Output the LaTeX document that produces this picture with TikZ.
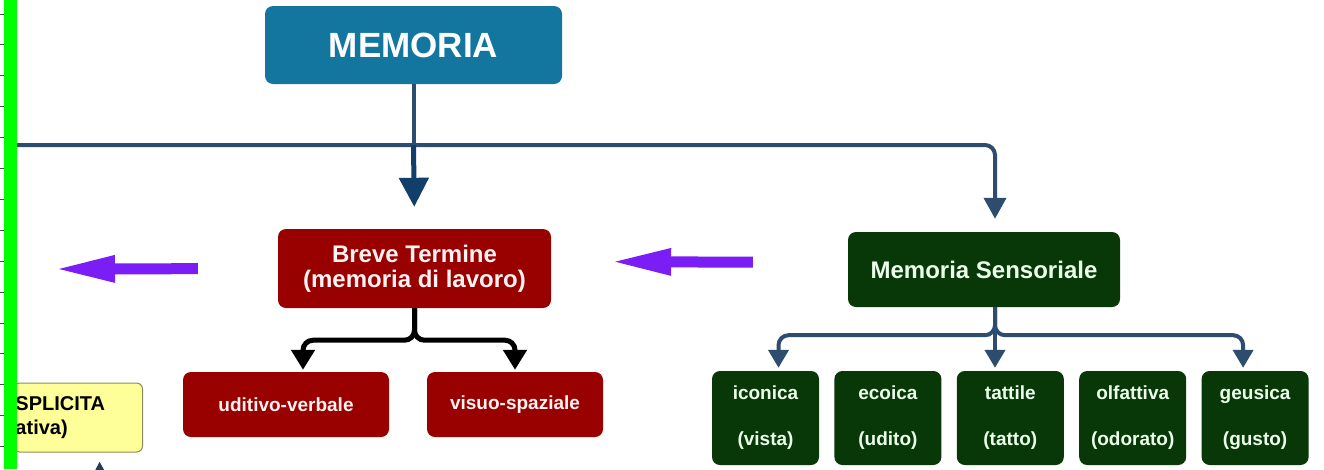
\documentclass[tikz,border=0pt]{standalone}
\usepackage{fontspec}
\setmainfont{Liberation Sans}
\usepackage{xcolor}
\usetikzlibrary{arrows.meta,positioning}

\definecolor{memblue}{RGB}{19,118,158}
\definecolor{linkblue}{RGB}{46,76,109}
\definecolor{navyblue}{RGB}{18,62,108}
\definecolor{brevered}{RGB}{153,0,0}
\definecolor{sensgreen}{RGB}{8,56,8}
\definecolor{arrowviolet}{RGB}{122,30,245}
\definecolor{esplyellow}{RGB}{255,255,153}
\definecolor{esplborder}{RGB}{140,140,90}
\definecolor{bargreen}{RGB}{0,255,0}

\tikzset{
  box/.style={rounded corners=8pt, align=center, inner sep=0pt},
  mainbox/.style={box, fill=memblue, text=white, minimum width=297pt, minimum height=78pt,
    font=\bfseries\fontsize{35}{40}\selectfont},
  redbox/.style={box, fill=brevered, text=white!95!red, font=\bfseries\fontsize{24}{25}\selectfont},
  redleaf/.style={box, fill=brevered, text=white!95!red, minimum width=206pt, minimum height=65pt,
    font=\bfseries\fontsize{19}{23}\selectfont},
  greenbox/.style={box, fill=sensgreen, text=white!92!green, font=\bfseries\fontsize{24}{28}\selectfont},
  sensleaf/.style={box, fill=sensgreen, text=white!92!green, minimum width=107pt, minimum height=94pt,
    font=\bfseries\fontsize{19}{46}\selectfont},
  esplbox/.style={fill=esplyellow, draw=esplborder, line width=1pt, rounded corners=6pt,
    text width=125pt, align=left, inner xsep=2pt, minimum height=69pt,
    font=\bfseries\fontsize{20}{24}\selectfont},
  link/.style={draw=linkblue, line width=4pt},
  navyarrow/.style={draw=navyblue, line width=5pt, -{Triangle[length=29pt,width=29pt]}},
  blackarrow/.style={draw=black, line width=5pt, rounded corners=10pt,
    -{Triangle[length=20pt,width=23pt]}, shorten >=2pt},
  senslink/.style={link, rounded corners=10pt, -{Triangle[length=18pt,width=20pt]}, shorten >=3pt},
  violetarrow/.style={draw=arrowviolet, line width=11pt,
    -{Triangle[length=56pt,width=28pt,line width=0pt]}}
}

\begin{document}
\begin{tikzpicture}[x=1pt,y=-1pt]
  \useasboundingbox (0,0) rectangle (1324,469);
  \fill[white] (0,0) rectangle (1324,469);

  \node[mainbox] (memoria) at (413.5,45) {MEMORIA};
  \node[redbox, minimum width=273pt, minimum height=79pt] (breve) at (414.5,268.5) {Breve Termine\\(memoria di lavoro)};
  \node[greenbox, minimum width=272pt, minimum height=75pt] (sens) at (984,269.5) {Memoria Sensoriale};
  \node[redleaf] (udit) at (286,404.5) {uditivo-verbale};
  \node[redleaf, minimum width=176pt] (visuo) at (515,404.5) {visuo-spaziale};
  \node[sensleaf] (icon) at (765.5,418) {iconica\\(vista)};
  \node[sensleaf, right=15pt of icon] (ecoi) {ecoica\\(udito)};
  \node[sensleaf, right=15pt of ecoi] (tatt) {tattile\\(tatto)};
  \node[sensleaf, right=15pt of tatt] (olfa) {olfattiva\\(odorato)};
  \node[sensleaf, right=15pt of olfa] (geus) {geusica\\(gusto)};
  \node[esplbox, anchor=east] (espl) at (143,417.5) {SPLICITA\\ativa)};

  \coordinate (lft) at (10,145);
  \coordinate (mj) at (memoria.south |- lft);
  \coordinate (bj) at ([yshift=-32pt]breve.south);
  \coordinate (sj) at ([xshift=11pt,yshift=-28pt]sens.south);
  \coordinate (offleft) at (59,269);
  \coordinate (upstub) at (100,500);

  \path (memoria.south) edge[link] (mj);
  \draw[link, rounded corners=10pt, -{Triangle[length=21pt,width=22pt]}, shorten >=13pt]
    (lft) -| ([xshift=11pt]sens.north);
  \path (mj) edge[navyarrow, shorten >=22pt] (breve.north);

  \draw[blackarrow] (breve.south) -- (bj) -| ([xshift=17pt]udit.north);
  \draw[blackarrow] (breve.south) -- (bj) -| (visuo.north);

  \draw[senslink] ([xshift=11pt]sens.south) -- (sj) -| ([xshift=13pt]icon.north);
  \draw[senslink] ([xshift=11pt]sens.south) -- (sj |- tatt.north);
  \draw[senslink] ([xshift=11pt]sens.south) -- (sj) -| ([xshift=-12pt]geus.north);

  \path ([yshift=7pt]sens.west) edge[violetarrow, shorten <=95pt, shorten >=64pt] ([yshift=7pt]breve.east);
  \path (breve.west) edge[violetarrow, shorten <=80pt] (offleft);

  \path (upstub) edge[draw=linkblue!80!black, line width=4pt,
    -{Triangle[length=18pt,width=18pt]}, shorten >=9pt] ([xshift=21.5pt]espl.south);

  \fill[bargreen] (4,0) rectangle (16.5,469);
  \foreach \k in {0,...,14}
    \draw[black!70, line width=1pt] (0,14+30.9*\k) -- (4,14+30.9*\k);
\end{tikzpicture}
\end{document}
